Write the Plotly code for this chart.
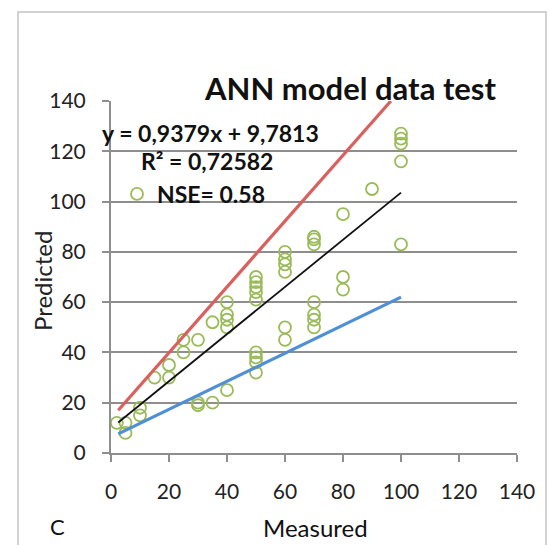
import plotly.graph_objects as go

# ---- data ----
measured = [2, 5, 5, 10, 10, 15, 20, 20, 25, 25, 30, 30, 30, 35, 35,
            40, 40, 40, 40, 40,
            50, 50, 50, 50, 50, 50, 50, 50, 50,
            60, 60, 60, 60, 60, 60,
            70, 70, 70, 70, 70, 70, 70,
            80, 80, 80, 90,
            100, 100, 100, 100, 100]
predicted = [12, 12, 8, 18, 15, 30, 35, 30, 45, 40, 45, 20, 19, 52, 20,
             60, 55, 53, 50, 25,
             70, 68, 66, 64, 61, 40, 38, 36, 32,
             80, 77, 75, 72, 50, 45,
             86, 85, 83, 60, 55, 53, 50,
             95, 70, 65, 105,
             127, 125, 123, 116, 83]

fit_slope = 0.9379
fit_intercept = 9.7813
fit_x = [2.5, 100]

red_x = [2.5, 96.5]
red_y = [17, 140]

blue_x = [2.5, 100]
blue_y = [7.6, 62]

x_ticks = [0, 20, 40, 60, 80, 100, 120, 140]
y_ticks = [0, 20, 40, 60, 80, 100, 120, 140]

title_text = "ANN model data test"
eq_text = "y = 0,9379x + 9,7813"
r2_text = "R² = 0,72582"
nse_text = "NSE= 0.58"

# ---- layout geometry (pixels) ----
W, H = 550, 545
L, R, T, B = 111, 33, 101, 92
PW, PH = W - L - R, H - T - B

def px(x):
    return (x - L) / PW

def py(y):
    return (H - B - y) / PH

FONT = "Lato"
GRID = "#8e8e8e"

fig = go.Figure()

fig.add_trace(go.Scatter(
    x=measured, y=predicted, mode="markers", name=nse_text,
    marker=dict(symbol="circle-open", size=12, color="#9bbb59",
                line=dict(width=1.8, color="#9bbb59")),
    showlegend=True))

fig.add_trace(go.Scatter(
    x=red_x, y=red_y, mode="lines", line=dict(color="#d9605c", width=3.2),
    showlegend=False, hoverinfo="skip"))

fig.add_trace(go.Scatter(
    x=fit_x, y=[fit_slope * v + fit_intercept for v in fit_x], mode="lines",
    line=dict(color="#111111", width=1.8), showlegend=False, hoverinfo="skip"))

fig.add_trace(go.Scatter(
    x=blue_x, y=blue_y, mode="lines", line=dict(color="#4f8fd6", width=3.2),
    showlegend=False, hoverinfo="skip"))

fig.update_layout(
    width=W, height=H,
    margin=dict(l=L, r=R, t=T, b=B),
    paper_bgcolor="white", plot_bgcolor="white",
    font=dict(family=FONT, size=21, color="#222"),
    legend=dict(x=px(117), y=py(194), xanchor="left", yanchor="middle",
                bgcolor="rgba(0,0,0,0)", itemwidth=30,
                font=dict(family=FONT, size=23, color="#111", weight="bold")),
    xaxis=dict(range=[0, 140], tickvals=x_ticks, showgrid=False,
               showline=True, linecolor=GRID, linewidth=2,
               ticks="outside", ticklen=7, tickcolor=GRID, tickwidth=2,
               ticklabelstandoff=12, zeroline=False,
               tickfont=dict(family=FONT, size=21, color="#222")),
    yaxis=dict(range=[0, 140], tickvals=y_ticks, showgrid=True,
               gridcolor=GRID, gridwidth=2,
               showline=True, linecolor=GRID, linewidth=2,
               ticks="outside", ticklen=7, tickcolor=GRID, tickwidth=2,
               ticklabelstandoff=12, zeroline=False,
               tickfont=dict(family=FONT, size=21, color="#222")),
    shapes=[dict(type="rect", xref="paper", yref="paper",
                 x0=px(18), x1=px(546), y0=py(570), y1=py(12),
                 line=dict(color="#c4c4c4", width=1.5), layer="below")],
)

ann = [
    dict(text=title_text, x=px(350), y=py(88), size=31, bold=True),
    dict(text=eq_text, x=px(210), y=py(133), size=23, bold=True),
    dict(text=r2_text, x=px(207), y=py(161), size=23, bold=True),
    dict(text="Measured", x=px(315), y=py(527), size=24, bold=False),
    dict(text="C", x=px(57), y=py(526), size=22, bold=False),
]
for a in ann:
    fig.add_annotation(
        text=a["text"], x=a["x"], y=a["y"], xref="paper", yref="paper",
        xanchor="center", yanchor="middle", showarrow=False,
        font=dict(family=FONT, size=a["size"], color="#111",
                  weight="bold" if a["bold"] else "normal"))

fig.add_annotation(text="Predicted", x=px(42), y=py(281), xref="paper", yref="paper",
                   xanchor="center", yanchor="middle", showarrow=False, textangle=-90,
                   font=dict(family=FONT, size=24, color="#222"))

fig.write_html("out.html")
